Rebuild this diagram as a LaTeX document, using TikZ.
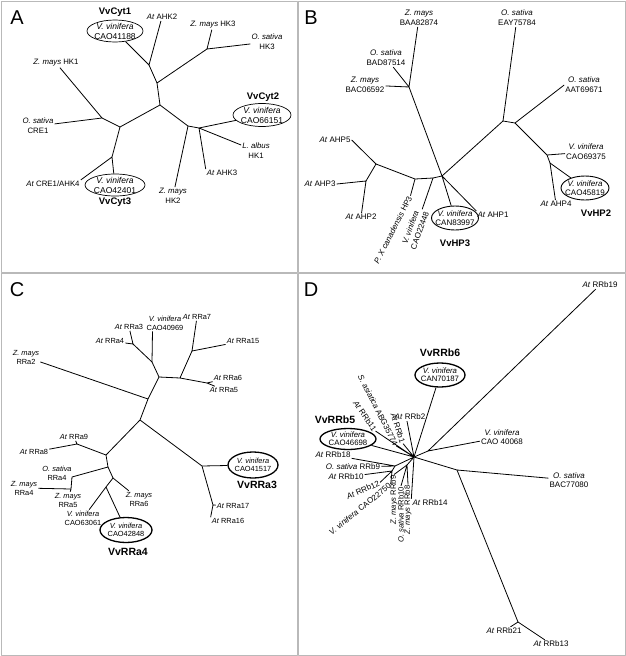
\documentclass[tikz,border=0pt]{standalone}
\usepackage{fontspec}
\setmainfont{Liberation Sans}
\usetikzlibrary{shapes.geometric}

\newcommand{\Vvi}{\textit{V. vinifera}}
\newcommand{\Ath}{\textit{At}}
\newcommand{\Zma}{\textit{Z. mays}}
\newcommand{\Osa}{\textit{O. sativa}}

\begin{document}
\begin{tikzpicture}[x=1pt, y=-1pt, line join=round,
    panel/.style={draw=gray!55, line width=1pt},
    tag/.style={font=\fontsize{20}{20}\selectfont, inner sep=0pt},
    branch/.style={line width=0.8pt},
    leaf/.style={inner sep=1pt, align=center, font=\fontsize{7.8}{10}\selectfont},
    gene/.style={ellipse, draw, align=center, inner sep=-8pt, line width=0.7pt,
        font=\fontsize{8.5}{10}\selectfont},
    vv/.style={inner sep=0pt, font=\fontsize{9.5}{10}\selectfont\bfseries}
    ]
    \useasboundingbox (0,0) rectangle (626,656);

    % A
    \draw[panel] (1,1) rectangle (297.5,272);
    \node[tag] (tagA) at (17,18) {A};
    \coordinate (A0) at (160,105);
    \coordinate (A1) at (157,83);
    \coordinate (A2) at (149,65);
    \coordinate (A3) at (207,49);
    \coordinate (A4) at (120,127);
    \coordinate (A5) at (102,118);
    \coordinate (A6) at (112,157);
    \coordinate (A7) at (188,126);
    \coordinate (A8) at (199,128);
    \node[gene, minimum width=56pt, minimum height=22pt] (cyt1) at (115,31) {\Vvi\\CAO41188};
    \node[vv] (cyt1n) at (115,12) {VvCyt1};
    \node[leaf] (ahk2) at (162,17) {\Ath{} AHK2};
    \node[leaf] (zmhk3) at (213,25) {\Zma{} HK3};
    \node[leaf] (oshk3) at (267,42) {\Osa\\HK3};
    \node[leaf] (zmhk1) at (56,63) {\Zma{} HK1};
    \node[leaf] (oscre1) at (38,126) {\Osa\\CRE1};
    \node[leaf] (ahk4) at (53,184) {\Ath{} CRE1/AHK4};
    \node[gene, minimum width=60pt, minimum height=22pt] (cyt3) at (115,185) {\Vvi\\CAO42401};
    \node[vv] (cyt3n) at (115,202) {VvCyt3};
    \node[leaf] (zmhk2) at (173,196) {\Zma\\HK2};
    \node[leaf] (ahk3) at (222,173) {\Ath{} AHK3};
    \node[leaf] (lahk1) at (256,151) {\textit{L. albus}\\HK1};
    \node[gene, minimum width=58pt, minimum height=23pt] (cyt2) at (262,115) {\Vvi\\CAO66151};
    \node[vv] (cyt2n) at (263,97) {VvCyt2};
    \draw[branch] (A0) -- (A1) -- (A2) (A1) -- (A3) (A0) -- (A4) -- (A5) (A4) -- (A6)
        (A0) -- (A7) -- (A8);
    \draw[branch] (A2) -- (cyt1) (A2) -- (ahk2) (A3) -- (zmhk3) (A3) -- (oshk3)
        (A5) -- (zmhk1) (A5) -- (oscre1) (A6) -- (ahk4.north east) (A6) -- (cyt3)
        (A7) -- (zmhk2) (A8) -- (ahk3.north west) (A8) -- (lahk1) (A8) -- (cyt2);

    % B
    \begin{scope}[leaf/.append style={font=\fontsize{8}{10}\selectfont},
        gene/.append style={line width=0.9pt, font=\fontsize{8}{9.5}\selectfont}]
    \draw[panel] (298.5,1) rectangle (625,272);
    \node[tag] (tagB) at (311,18) {B};
    \coordinate (B0) at (442,176);
    \coordinate (B1) at (409,87);
    \coordinate (B2) at (503,121);
    \coordinate (B3) at (515,123);
    \coordinate (B4) at (547,155);
    \coordinate (B5) at (550,163);
    \coordinate (B6) at (433,178);
    \coordinate (B7) at (415,179);
    \coordinate (B8) at (376,164);
    \coordinate (B9) at (366,181);
    \node[leaf] (baa) at (419,18) {\Zma\\BAA82874};
    \node[leaf] (bad) at (386,58) {\Osa\\BAD87514};
    \node[leaf] (bac) at (365,85) {\Zma\\BAC06592};
    \node[leaf] (eay) at (517,18) {\Osa\\EAY75784};
    \node[leaf] (aat) at (584,85) {\Osa\\AAT69671};
    \node[leaf] (cao69375) at (586,152) {\Vvi\\CAO69375};
    \node[leaf] (ahp4) at (556,204) {\Ath{} AHP4};
    \node[gene, minimum width=48pt, minimum height=24pt] (hp2) at (585,188) {\Vvi\\CAO45819};
    \node[vv] (hp2n) at (596,213) {VvHP2};
    \node[leaf] (ahp5) at (335,140) {\Ath{} AHP5};
    \node[leaf] (ahp3) at (320,184) {\Ath{} AHP3};
    \node[leaf] (ahp2) at (361,217) {\Ath{} AHP2};
    \node[leaf, rotate=63] (pxhp3) at (393,230) {\textit{P. X canadensis} HP3};
    \node[leaf, rotate=70] (cao22448) at (415,229) {\Vvi\\CAO22448};
    \node[gene, minimum width=47pt, minimum height=24pt] (hp3) at (455,218) {\Vvi\\CAN83997};
    \node[vv] (hp3n) at (455,243) {VvHP3};
    \node[leaf] (ahp1) at (493,215) {\Ath{} AHP1};
    \draw[branch] (B0) -- (B1) (B0) -- (B2) -- (B3) -- (B4) -- (B5)
        (B0) -- (B6) -- (B7) -- (B8) -- (B9);
    \draw[branch] (B1) -- (baa) (B1) -- (bad) (B1) -- (bac) (B2) -- (eay) (B3) -- (aat.west)
        (B4) -- (cao69375) (B5) -- (ahp4) (B5) -- (hp2) (B8) -- (ahp5.east) (B9) -- (ahp3.east)
        (B9) -- (ahp2) (B7) -- (pxhp3.east) (B6) -- (cao22448.east) (B0) -- (hp3)
        (B0) -- (ahp1.north west);
    \end{scope}

    % C
    \begin{scope}[leaf/.append style={font=\fontsize{7.4}{9}\selectfont},
        gene/.append style={line width=1.3pt, font=\fontsize{7.4}{8.5}\selectfont},
        vv/.append style={font=\fontsize{10.5}{11}\selectfont\bfseries}]
    \draw[panel] (1,273) rectangle (297.5,655);
    \node[tag] (tagC) at (17,290) {C};
    \coordinate (C0) at (140,420);
    \coordinate (C1) at (148,399);
    \coordinate (C2) at (159,377);
    \coordinate (C3) at (152,362);
    \coordinate (C4) at (133,344);
    \coordinate (C5) at (180,378);
    \coordinate (C6) at (192,351);
    \coordinate (C7) at (207,383);
    \coordinate (C8) at (106,455);
    \coordinate (C9) at (77,444);
    \coordinate (C10) at (108,467);
    \coordinate (C11) at (72,477);
    \coordinate (C12) at (71,489);
    \coordinate (C13) at (113,478);
    \coordinate (C14) at (106,487);
    \coordinate (C15) at (202,466);
    \coordinate (C16) at (213,505);
    \node[leaf] (zmrra2) at (26,357) {\Zma\\RRa2};
    \node[leaf] (atrra3) at (129,327) {\Ath{} RRa3};
    \node[leaf] (atrra4) at (110,341) {\Ath{} RRa4};
    \node[leaf] (cao40969) at (165,323) {\Vvi\\CAO40969};
    \node[leaf] (atrra7) at (197,317) {\Ath{} RRa7};
    \node[leaf] (atrra15) at (243,341) {\Ath{} RRa15};
    \node[leaf] (atrra6) at (228,378) {\Ath{} RRa6};
    \node[leaf] (atrra5) at (224,390) {\Ath{} RRa5};
    \node[leaf] (atrra9) at (74,437) {\Ath{} RRa9};
    \node[leaf] (atrra8) at (34,452) {\Ath{} RRa8};
    \node[leaf] (osrra4) at (57,473) {\Osa\\RRa4};
    \node[leaf] (zmrra4) at (24,488) {\Zma\\RRa4};
    \node[leaf] (zmrra5) at (68,500) {\Zma\\RRa5};
    \node[leaf] (cao63061) at (83,518) {\Vvi\\CAO63061};
    \node[leaf] (zmrra6) at (139,499) {\Zma\\RRa6};
    \node[gene, minimum width=52pt, minimum height=25pt] (rra4) at (126,530) {\Vvi\\CAO42848};
    \node[vv] (rra4n) at (128,552) {VvRRa4};
    \node[gene, minimum width=50pt, minimum height=26pt] (rra3) at (253,465) {\Vvi\\CAO41517};
    \node[vv] (rra3n) at (257,485) {VvRRa3};
    \node[leaf] (atrra17) at (233,506) {\Ath{} RRa17};
    \node[leaf] (atrra16) at (228,521) {\Ath{} RRa16};
    \draw[branch] (C0) -- (C1) -- (C2) -- (C3) -- (C4) (C2) -- (C5) -- (C6) (C5) -- (C7)
        (C0) -- (C8) -- (C9) (C8) -- (C10) -- (C11) -- (C12) (C10) -- (C13) -- (C14)
        (C0) -- (C15) -- (C16);
    \draw[branch] (C1) -- (zmrra2) (C4) -- (atrra3) (C4) -- (atrra4)
        (C3) -- ([xshift=7pt]cao40969.south west) (C6) -- (atrra7) (C6) -- (atrra15)
        (C7) -- (atrra6) (C7) -- (atrra5) (C9) -- (atrra9) (C9) -- (atrra8)
        (C12) -- (zmrra4) (C12) -- (zmrra5) (C14) -- (cao63061) (C14) -- (rra4)
        (C13) -- (zmrra6) (C15) -- (rra3) (C16) -- (atrra17) (C16) -- (atrra16.north west);
    \end{scope}

    % D
    \begin{scope}[leaf/.append style={font=\fontsize{8}{9.5}\selectfont},
        gene/.append style={line width=1.3pt, font=\fontsize{7.8}{8}\selectfont},
        vv/.append style={font=\fontsize{10.5}{11}\selectfont\bfseries}]
    \draw[panel] (298.5,273) rectangle (625,655);
    \node[tag] (tagD) at (311,290) {D};
    \coordinate (D0) at (414,457);
    \coordinate (D1) at (428,451);
    \coordinate (D2) at (457,470);
    \coordinate (D3) at (518,622);
    \coordinate (D4) at (395,466);
    \coordinate (D5) at (392,471);
    \coordinate (D6) at (407,465);
    \node[leaf] (atrrb19) at (600,285) {\Ath{} RRb19};
    \node[leaf] (cao40068) at (502,437) {\Vvi\\CAO 40068};
    \node[leaf] (bac77080) at (569,480) {\Osa\\BAC77080};
    \node[leaf] (atrrb21) at (504,631) {\Ath{} RRb21};
    \node[leaf] (atrrb13) at (551,644) {\Ath{} RRb13};
    \node[gene, minimum width=50pt, minimum height=24pt] (rrb6) at (440,375) {\Vvi\\CAN70187};
    \node[vv] (rrb6n) at (440,353) {VvRRb6};
    \node[gene, minimum width=56pt, minimum height=21pt] (rrb5) at (348,439) {\Vvi\\CAO46698};
    \node[vv] (rrb5n) at (335,420) {VvRRb5};
    \node[leaf] (atrrb2) at (410,417) {\Ath{} RRb2};
    \node[leaf, rotate=-72] (atrrb1) at (398,428) {\Ath{} RRb1};
    \node[leaf, rotate=-63] (sasia) at (378,410) {\textit{S. asiatica} ABG35774};
    \node[leaf, rotate=-55] (atrrb11) at (365,416) {\Ath{} RRb11};
    \node[leaf] (atrrb18) at (333,455) {\Ath{} RRb18};
    \node[leaf] (osrrb9) at (353,467) {\Osa{} RRb9};
    \node[leaf] (atrrb10) at (346,477) {\Ath{} RRb10};
    \node[leaf, rotate=24] (atrrb12) at (363,490) {\Ath{} RRb12};
    \node[leaf, rotate=39] (cao22750) at (360,509) {\Vvi{} CAO22750};
    \node[leaf, rotate=90, font=\fontsize{7.6}{9}\selectfont] (zmrrb9) at (394,500) {\Zma{} RRb9};
    \node[leaf, rotate=90, font=\fontsize{7.6}{9}\selectfont] (osrrb10) at (401,515) {\Osa{} RRb10};
    \node[leaf, rotate=90, font=\fontsize{7.6}{9}\selectfont] (zmrrb8) at (408,510) {\Zma{} RRb8};
    \node[leaf] (atrrb14) at (430,503) {\Ath{} RRb14};
    \draw[branch] (D0) -- (D1) (D0) -- (D2) -- (D3) (D0) -- (D4) -- (D5) (D0) -- (D6);
    \draw[branch] (D1) -- (atrrb19) (D1) -- (cao40068) (D2) -- (bac77080)
        (D3) -- (atrrb21) (D3) -- (atrrb13) (D0) -- (rrb6) (D0) -- (rrb5)
        (D0) -- ([xshift=-3pt]atrrb2.south) (D0) -- (atrrb1.east) (D0) -- (sasia.east)
        (D0) -- (atrrb11.east) (D4) -- (atrrb18) (D4) -- (osrrb9) (D5) -- (atrrb10)
        (D5) -- (atrrb12.east) (D5) -- (cao22750.east) (D6) -- (zmrrb9.east)
        (D6) -- (osrrb10.east) (D6) -- (zmrrb8.east) (D0) -- (atrrb14.north west);
    \end{scope}
\end{tikzpicture}
\end{document}
